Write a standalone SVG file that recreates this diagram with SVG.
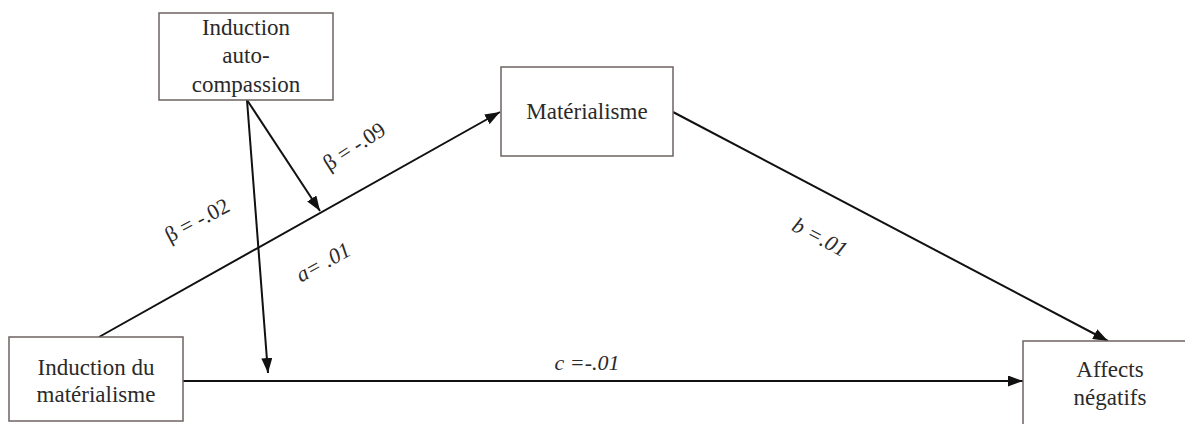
<svg xmlns="http://www.w3.org/2000/svg" width="1185" height="424" viewBox="0 0 1185 424">
<defs>
<style>
.box{fill:#fff;stroke:#6e6262;stroke-width:1.5}
.t{font-family:'Liberation Serif','DejaVu Serif','Times New Roman',serif;font-size:23px;fill:#2a2a2a;text-anchor:middle}
.lab{font-family:'Liberation Serif','DejaVu Serif','Times New Roman',serif;font-size:22px;fill:#2a2a2a;text-anchor:middle;dominant-baseline:central}
.it{font-style:italic}
.c{stroke:#111;stroke-width:2;fill:none}
</style>
<marker id="ah" viewBox="0 0 15 11" refX="15" refY="5.5" markerWidth="15" markerHeight="11" markerUnits="userSpaceOnUse" orient="auto">
<path d="M0,0 L15,5.5 L0,11 Z" fill="#111"/>
</marker>
</defs>
<rect width="1185" height="424" fill="#fff"/>
<g id="connectors">
<line class="c" x1="99" y1="337" x2="500" y2="112" marker-end="url(#ah)"/>
<line class="c" x1="673" y1="112" x2="1108" y2="341" marker-end="url(#ah)"/>
<line class="c" x1="183" y1="381" x2="1023" y2="381" marker-end="url(#ah)"/>
<line class="c" x1="247" y1="100" x2="268" y2="373" marker-end="url(#ah)"/>
<line class="c" x1="247" y1="100" x2="320" y2="211" marker-end="url(#ah)"/>
</g>
<g id="node-autocompassion">
<rect class="box" x="159" y="13" width="174" height="87"/>
<text class="t" x="246" y="35">Induction</text>
<text class="t" x="246" y="63">auto-</text>
<text class="t" x="246" y="92">compassion</text>
</g>
<g id="node-materialisme">
<rect class="box" x="501" y="67" width="172" height="89"/>
<text class="t" x="587" y="119">Matérialisme</text>
</g>
<g id="node-induction-mat">
<rect class="box" x="9" y="337" width="174" height="84"/>
<text class="t" x="96" y="375">Induction du</text>
<text class="t" x="96" y="402">matérialisme</text>
</g>
<g id="node-affects">
<rect class="box" x="1023" y="341" width="175" height="90"/>
<text class="t" x="1110" y="377">Affects</text>
<text class="t" x="1110" y="405">négatifs</text>
</g>
<g id="labels">
<text class="lab" transform="translate(197,220) rotate(-28)">β = -.02</text>
<text class="lab" transform="translate(354,146) rotate(-33)">β = -.09</text>
<text class="lab it" transform="translate(323,262) rotate(-29)">a= .01</text>
<text class="lab it" transform="translate(820,237) rotate(28)">b =.01</text>
<text class="lab it" x="587" y="362">c =-.01</text>
</g>
</svg>
